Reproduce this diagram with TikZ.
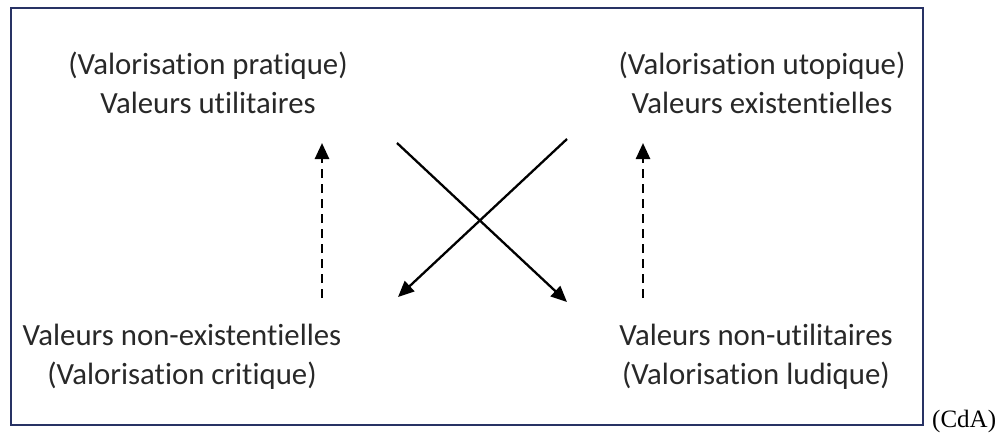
\documentclass[tikz,border=0pt]{standalone}
\usepackage{fontspec}
\setmainfont{Carlito}[RawFeature=-liga]
\newfontfamily\serifcda{Liberation Serif}
\usetikzlibrary{arrows.meta}
\definecolor{framecol}{RGB}{40,50,100}
\definecolor{txtcol}{RGB}{40,40,40}
\tikzset{
  label text/.style={align=center, text=txtcol, inner sep=0pt,
    font=\fontsize{30.8}{39}\selectfont},
  solid arrow/.style={line width=2.3pt, -{Triangle[length=16pt,width=14pt]}},
  dashed arrow/.style={line width=2.6pt, dash pattern=on 9pt off 6pt, -{Triangle[length=16pt,width=14pt]}},
  frame box/.style={draw=framecol, line width=2.2pt}
}
\begin{document}
\begin{tikzpicture}[x=1pt,y=-1pt]
\useasboundingbox (0,0) rectangle (1008,432);
\draw[frame box] (11,8) rectangle (923,425);
\node[label text] (tl) at (208,83) {(Valorisation pratique)\\Valeurs utilitaires};
\node[label text] (tr) at (762,83) {(Valorisation utopique)\\Valeurs existentielles};
\node[label text] (bl) at (182,357) {Valeurs non-existentielles\\(Valorisation critique)};
\node[label text] (br) at (756,357) {Valeurs non-utilitaires\\(Valorisation ludique)};
\node[anchor=base west, inner sep=0pt, font=\serifcda\fontsize{25}{30}\selectfont] (cda) at (932,427) {(CdA)};
\coordinate (ldb) at (322,298);
\coordinate (ldt) at (322,143);
\coordinate (rdb) at (643,298);
\coordinate (rdt) at (643,143);
\coordinate (c1s) at (397,143);
\coordinate (c1e) at (567,302);
\coordinate (c2s) at (567,139);
\coordinate (c2e) at (398,297);
\draw[dashed arrow] (ldb) -- (ldt);
\draw[dashed arrow] (rdb) -- (rdt);
\draw[solid arrow] (c1s) -- (c1e);
\draw[solid arrow] (c2s) -- (c2e);
\end{tikzpicture}
\end{document}
